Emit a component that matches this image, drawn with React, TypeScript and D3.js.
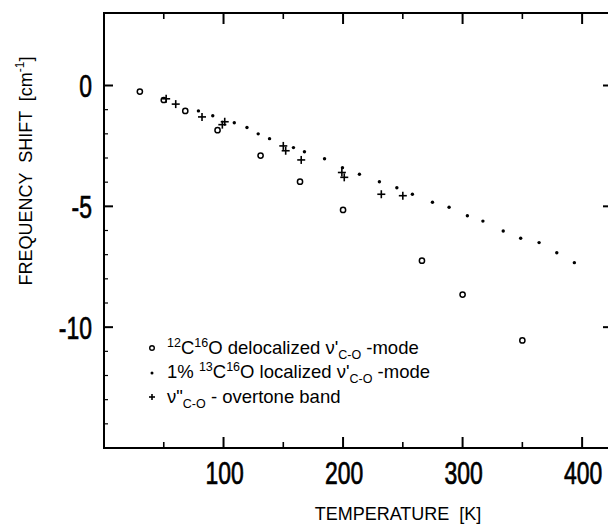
import React from "react";
import * as d3 from "d3";

const W = 608;
const H = 525;

// 12C16O delocalized mode (open circles)
const delocT = [30, 50, 68, 95, 131, 164, 200, 266, 300, 350];
const delocV = [-0.25, -0.6, -1.05, -1.85, -2.9, -3.98, -5.15, -7.25, -8.65, -10.55];

// 1% 13C16O localized mode (dots)
const localT = [79, 91, 109, 119.6, 129, 138.5, 158.5, 167.7, 184.5, 199.5, 213.7, 230.4, 245, 258, 274.8, 288.7, 304, 317, 334, 348.6, 364, 378.8, 393.5];
const localV = [-1.05, -1.25, -1.54, -1.74, -2.0, -2.2, -2.57, -2.74, -3.03, -3.4, -3.67, -3.98, -4.23, -4.5, -4.83, -5.04, -5.39, -5.61, -6.02, -6.32, -6.5, -6.92, -7.33];

// overtone band (pluses)
const overT = [52, 60, 82, 99, 101, 150, 152, 165, 199, 201, 232, 250];
const overV = [-0.55, -0.77, -1.3, -1.62, -1.5, -2.5, -2.7, -3.08, -3.6, -3.8, -4.5, -4.56];

const xMajor = [100, 200, 300, 400];
const xMinor = [50, 150, 250, 350];
const yMajor = [0, -5, -10];
const yMinor = [-1, -2, -3, -4, -6, -7, -8, -9, -11, -12, -13, -14];

const X_DOMAIN: [number, number] = [0, 425];
const Y_DOMAIN: [number, number] = [-15, 3];

const LEFT = 104;
const RIGHT = 612;
const TOP = 13;
const BOTTOM = 448;

export default function App() {
  const x = d3.scaleLinear().domain(X_DOMAIN).range([LEFT, RIGHT]);
  const y = d3.scaleLinear().domain(Y_DOMAIN).range([BOTTOM, TOP]);
  const font = "'Liberation Sans', Arial, sans-serif";

  const plus = (cx: number, cy: number, s: number, k: string) => (
    <g key={k} stroke="#000" strokeWidth={1.6}>
      <line x1={cx - s} x2={cx + s} y1={cy} y2={cy} />
      <line x1={cx} x2={cx} y1={cy - s} y2={cy + s} />
    </g>
  );

  const legendX = 167;
  const markX = 152;
  const rows = [354, 378, 403];

  return (
    <svg width={W} height={H} style={{ position: "absolute", left: 0, top: 0, background: "#fff" }} fontFamily={font}>
      <rect x={0} y={0} width={W} height={H} fill="#fff" />
      {/* frame */}
      <line x1={LEFT} x2={LEFT} y1={TOP} y2={BOTTOM + 1} stroke="#000" strokeWidth={2} />
      <line x1={LEFT - 1} x2={RIGHT} y1={BOTTOM} y2={BOTTOM} stroke="#000" strokeWidth={2} />
      <line x1={LEFT - 1} x2={RIGHT} y1={TOP} y2={TOP} stroke="#000" strokeWidth={1.8} />
      <line x1={RIGHT} x2={RIGHT} y1={TOP} y2={BOTTOM} stroke="#000" strokeWidth={2} />

      {/* x ticks */}
      {xMajor.map((v) => (
        <g key={"xM" + v} stroke="#000" strokeWidth={2}>
          <line x1={x(v)} x2={x(v)} y1={BOTTOM} y2={BOTTOM - 11} />
          <line x1={x(v)} x2={x(v)} y1={TOP} y2={TOP + 11} />
        </g>
      ))}
      {xMinor.map((v) => (
        <g key={"xm" + v} stroke="#000" strokeWidth={1.6}>
          <line x1={x(v)} x2={x(v)} y1={BOTTOM} y2={BOTTOM - 6} />
          <line x1={x(v)} x2={x(v)} y1={TOP} y2={TOP + 6} />
        </g>
      ))}
      {/* y ticks */}
      {yMajor.map((v) => (
        <g key={"yM" + v} stroke="#000" strokeWidth={2}>
          <line x1={LEFT} x2={LEFT + 9} y1={y(v)} y2={y(v)} />
          <line x1={RIGHT} x2={RIGHT - 9} y1={y(v)} y2={y(v)} />
        </g>
      ))}
      {yMinor.map((v) => (
        <g key={"ym" + v} stroke="#000" strokeWidth={1.2}>
          <line x1={LEFT} x2={LEFT + 4} y1={y(v)} y2={y(v)} />
          <line x1={RIGHT} x2={RIGHT - 4} y1={y(v)} y2={y(v)} />
        </g>
      ))}

      {/* tick labels */}
      {xMajor.map((v) => (
        <text key={"xl" + v} transform={`translate(${x(v) + 1},483.5) scale(0.74,1)`} textAnchor="middle" fontSize={31} fill="#000" stroke="#000" strokeWidth={0.7}>
          {String(v)}
        </text>
      ))}
      {yMajor.map((v) => (
        <text key={"yl" + v} transform={`translate(92,${y(v) + 11.5}) scale(0.74,1)`} textAnchor="end" fontSize={31} fill="#000" stroke="#000" strokeWidth={0.7}>
          {v === 0 ? "0" : "-" + Math.abs(v)}
        </text>
      ))}

      {/* axis titles */}
      <text x={398} y={520} textAnchor="middle" fontSize={18} fill="#000" xmlSpace="preserve">
        TEMPERATURE  [K]
      </text>
      <text transform="translate(32,171) rotate(-90)" textAnchor="middle" fontSize={18} fill="#000" xmlSpace="preserve">
        FREQUENCY  SHIFT  [cm<tspan fontSize={12} dy={-8}>-1</tspan><tspan dy={8}>]</tspan>
      </text>

      {/* data */}
      {delocT.map((t, i) => (
        <circle key={"c" + i} cx={x(t)} cy={y(delocV[i])} r={2.6} fill="none" stroke="#000" strokeWidth={1.5} />
      ))}
      {localT.map((t, i) => (
        <circle key={"d" + i} cx={x(t)} cy={y(localV[i])} r={1.7} fill="#000" />
      ))}
      {overT.map((t, i) => plus(x(t), y(overV[i]), 4, "p" + i))}

      {/* legend */}
      <circle cx={markX} cy={rows[0] - 6} r={2.3} fill="none" stroke="#000" strokeWidth={1.4} />
      <circle cx={markX} cy={rows[1] - 5} r={1.5} fill="#000" />
      {plus(markX, rows[2] - 6, 3, "lp")}

      <text x={legendX} y={rows[0]} fontSize={18.5} fill="#000">
        <tspan fontSize={12.5} dy={-7}>12</tspan>
        <tspan dy={7}>C</tspan>
        <tspan fontSize={12.5} dy={-7}>16</tspan>
        <tspan dy={7}>O delocalized ν'</tspan>
        <tspan fontSize={12.5} dy={5}>C-O</tspan>
        <tspan dy={-5}> -mode</tspan>
      </text>
      <text x={legendX} y={rows[1]} fontSize={18.5} fill="#000">
        <tspan>1% </tspan>
        <tspan fontSize={12.5} dy={-7}>13</tspan>
        <tspan dy={7}>C</tspan>
        <tspan fontSize={12.5} dy={-7}>16</tspan>
        <tspan dy={7}>O localized ν'</tspan>
        <tspan fontSize={12.5} dy={5}>C-O</tspan>
        <tspan dy={-5}> -mode</tspan>
      </text>
      <text x={legendX} y={rows[2]} fontSize={18.5} fill="#000">
        <tspan>ν"</tspan>
        <tspan fontSize={12.5} dy={5}>C-O</tspan>
        <tspan dy={-5}> - overtone band</tspan>
      </text>
    </svg>
  );
}
